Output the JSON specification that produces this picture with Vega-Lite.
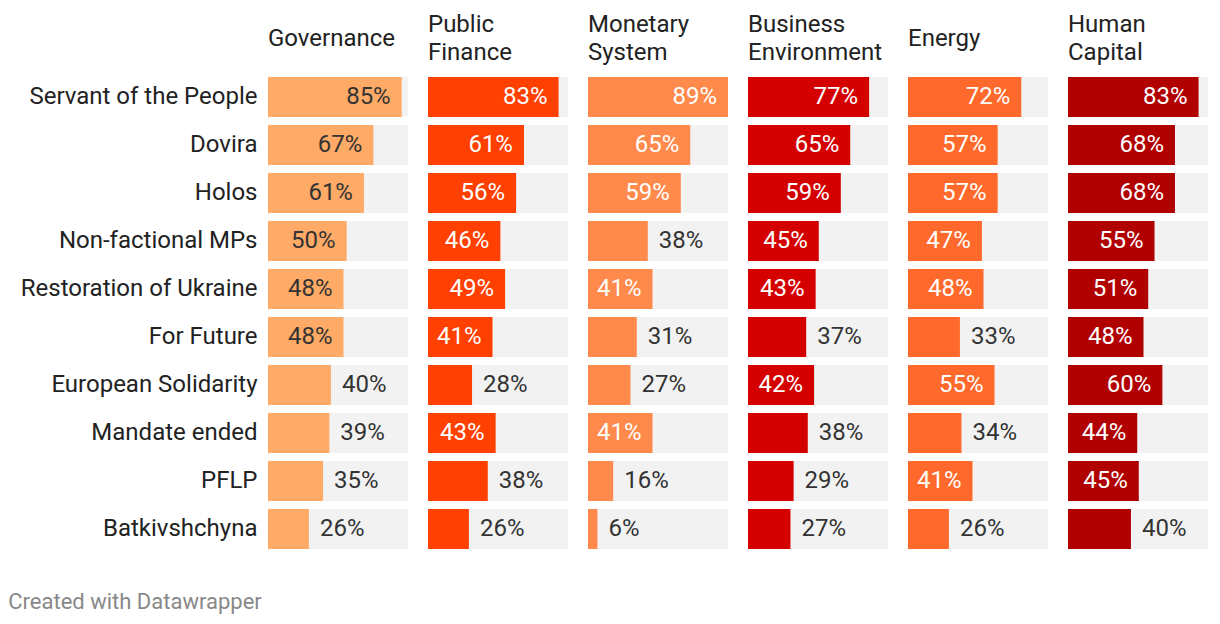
{
  "$schema": "https://vega.github.io/schema/vega-lite/v6.json",
  "background": "white",
  "padding": {"left": 8, "top": 13, "right": 12, "bottom": 10},
  "title": {"text": "Created with Datawrapper", "orient": "bottom", "anchor": "start", "font": "Roboto", "fontSize": 22, "fontWeight": "normal", "color": "#888888", "offset": 43, "frame": "bounds", "dx": -12},
  "data": {"values": [
    {"party": "Servant of the People", "cat": "Governance", "v": 0.85},
    {"party": "Servant of the People", "cat": "Public Finance", "v": 0.83},
    {"party": "Servant of the People", "cat": "Monetary System", "v": 0.89},
    {"party": "Servant of the People", "cat": "Business Environment", "v": 0.77},
    {"party": "Servant of the People", "cat": "Energy", "v": 0.72},
    {"party": "Servant of the People", "cat": "Human Capital", "v": 0.83},
    {"party": "Dovira", "cat": "Governance", "v": 0.67},
    {"party": "Dovira", "cat": "Public Finance", "v": 0.61},
    {"party": "Dovira", "cat": "Monetary System", "v": 0.65},
    {"party": "Dovira", "cat": "Business Environment", "v": 0.65},
    {"party": "Dovira", "cat": "Energy", "v": 0.57},
    {"party": "Dovira", "cat": "Human Capital", "v": 0.68},
    {"party": "Holos", "cat": "Governance", "v": 0.61},
    {"party": "Holos", "cat": "Public Finance", "v": 0.56},
    {"party": "Holos", "cat": "Monetary System", "v": 0.59},
    {"party": "Holos", "cat": "Business Environment", "v": 0.59},
    {"party": "Holos", "cat": "Energy", "v": 0.57},
    {"party": "Holos", "cat": "Human Capital", "v": 0.68},
    {"party": "Non-factional MPs", "cat": "Governance", "v": 0.50},
    {"party": "Non-factional MPs", "cat": "Public Finance", "v": 0.46},
    {"party": "Non-factional MPs", "cat": "Monetary System", "v": 0.38},
    {"party": "Non-factional MPs", "cat": "Business Environment", "v": 0.45},
    {"party": "Non-factional MPs", "cat": "Energy", "v": 0.47},
    {"party": "Non-factional MPs", "cat": "Human Capital", "v": 0.55},
    {"party": "Restoration of Ukraine", "cat": "Governance", "v": 0.48},
    {"party": "Restoration of Ukraine", "cat": "Public Finance", "v": 0.49},
    {"party": "Restoration of Ukraine", "cat": "Monetary System", "v": 0.41},
    {"party": "Restoration of Ukraine", "cat": "Business Environment", "v": 0.43},
    {"party": "Restoration of Ukraine", "cat": "Energy", "v": 0.48},
    {"party": "Restoration of Ukraine", "cat": "Human Capital", "v": 0.51},
    {"party": "For Future", "cat": "Governance", "v": 0.48},
    {"party": "For Future", "cat": "Public Finance", "v": 0.41},
    {"party": "For Future", "cat": "Monetary System", "v": 0.31},
    {"party": "For Future", "cat": "Business Environment", "v": 0.37},
    {"party": "For Future", "cat": "Energy", "v": 0.33},
    {"party": "For Future", "cat": "Human Capital", "v": 0.48},
    {"party": "European Solidarity", "cat": "Governance", "v": 0.40},
    {"party": "European Solidarity", "cat": "Public Finance", "v": 0.28},
    {"party": "European Solidarity", "cat": "Monetary System", "v": 0.27},
    {"party": "European Solidarity", "cat": "Business Environment", "v": 0.42},
    {"party": "European Solidarity", "cat": "Energy", "v": 0.55},
    {"party": "European Solidarity", "cat": "Human Capital", "v": 0.60},
    {"party": "Mandate ended", "cat": "Governance", "v": 0.39},
    {"party": "Mandate ended", "cat": "Public Finance", "v": 0.43},
    {"party": "Mandate ended", "cat": "Monetary System", "v": 0.41},
    {"party": "Mandate ended", "cat": "Business Environment", "v": 0.38},
    {"party": "Mandate ended", "cat": "Energy", "v": 0.34},
    {"party": "Mandate ended", "cat": "Human Capital", "v": 0.44},
    {"party": "PFLP", "cat": "Governance", "v": 0.35},
    {"party": "PFLP", "cat": "Public Finance", "v": 0.38},
    {"party": "PFLP", "cat": "Monetary System", "v": 0.16},
    {"party": "PFLP", "cat": "Business Environment", "v": 0.29},
    {"party": "PFLP", "cat": "Energy", "v": 0.41},
    {"party": "PFLP", "cat": "Human Capital", "v": 0.45},
    {"party": "Batkivshchyna", "cat": "Governance", "v": 0.26},
    {"party": "Batkivshchyna", "cat": "Public Finance", "v": 0.26},
    {"party": "Batkivshchyna", "cat": "Monetary System", "v": 0.06},
    {"party": "Batkivshchyna", "cat": "Business Environment", "v": 0.27},
    {"party": "Batkivshchyna", "cat": "Energy", "v": 0.26},
    {"party": "Batkivshchyna", "cat": "Human Capital", "v": 0.40}
  ]},
  "facet": {
    "column": {
      "field": "cat",
      "sort": ["Governance", "Public Finance", "Monetary System", "Business Environment", "Energy", "Human Capital"],
      "header": {
        "title": null,
        "labelExpr": "indexof(datum.value, ' ') > 0 ? [split(datum.value, ' ')[0], '\u200b', split(datum.value, ' ')[1]] : [datum.value, '\u200b']",
        "labelAlign": "left",
        "labelAnchor": "start",
        "labelBaseline": "middle",
        "labelFont": "Roboto",
        "labelFontSize": 24,
        "labelColor": "#222222",
        "labelLineHeight": 14,
        "labelPadding": 0
      }
    }
  },
  "spacing": 20,
  "spec": {
    "width": 140,
    "height": 472,
    "encoding": {
      "y": {
        "field": "party",
        "type": "nominal",
        "sort": null,
        "scale": {"paddingInner": 0.1667, "paddingOuter": 0},
        "axis": {"title": null, "domain": false, "ticks": false, "labelPadding": 11, "labelLimit": 400, "labelFont": "Roboto", "labelFontSize": 24, "labelColor": "#222222"}
      }
    },
    "layer": [
      {
        "mark": {"type": "bar", "color": "#f2f2f2"},
        "encoding": {
          "x": {"datum": 0.89, "type": "quantitative", "scale": {"domain": [0, 0.89], "nice": false, "zero": true}, "axis": null}
        }
      },
      {
        "mark": {"type": "bar"},
        "encoding": {
          "x": {"field": "v", "type": "quantitative"},
          "color": {
            "field": "cat",
            "type": "nominal",
            "scale": {
              "domain": ["Governance", "Public Finance", "Monetary System", "Business Environment", "Energy", "Human Capital"],
              "range": ["#ffaa66", "#ff4000", "#ff8a4c", "#d40000", "#ff6a2c", "#b00000"]
            },
            "legend": null
          }
        }
      },
      {
        "transform": [{"filter": "datum.v >= 0.41"}],
        "mark": {"type": "text", "align": "right", "baseline": "middle", "dx": -11, "font": "Roboto", "fontSize": 24},
        "encoding": {
          "x": {"field": "v", "type": "quantitative"},
          "text": {"field": "v", "type": "quantitative", "format": ".0%"},
          "color": {"condition": {"test": "datum.cat === 'Governance'", "value": "#333333"}, "value": "#ffffff"}
        }
      },
      {
        "transform": [{"filter": "datum.v < 0.41"}],
        "mark": {"type": "text", "align": "left", "baseline": "middle", "dx": 11, "font": "Roboto", "fontSize": 24, "color": "#333333"},
        "encoding": {
          "x": {"field": "v", "type": "quantitative"},
          "text": {"field": "v", "type": "quantitative", "format": ".0%"}
        }
      }
    ]
  },
  "resolve": {"scale": {"x": "shared", "y": "shared"}},
  "config": {"view": {"stroke": null}}
}
